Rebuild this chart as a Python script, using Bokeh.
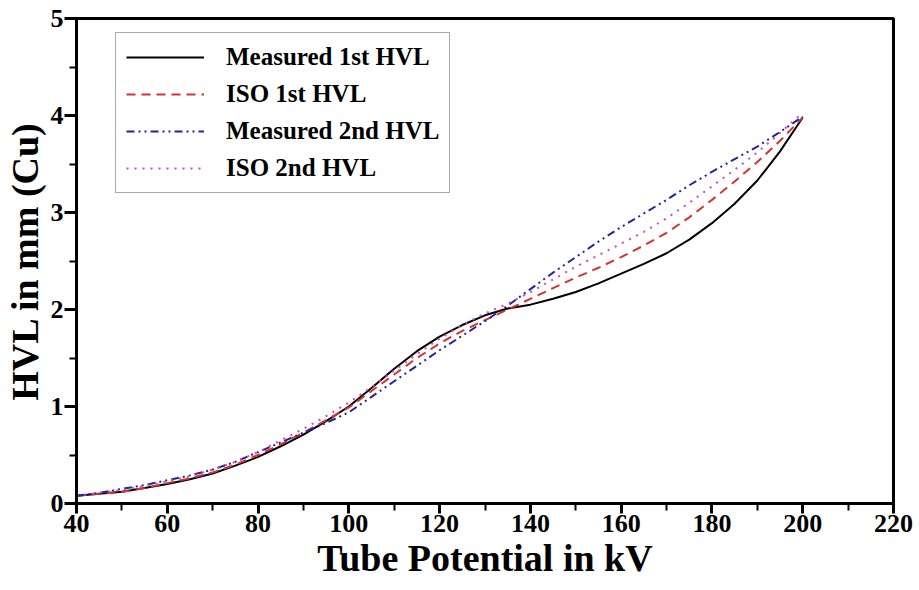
from bokeh.plotting import figure
from bokeh.models import Range1d, Legend, LegendItem, FixedTicker
from bokeh.embed import file_html
from bokeh.resources import INLINE

kv = [40, 45, 50, 55, 60, 65, 70, 75, 80, 85, 90, 95, 100, 105, 110, 115, 120,
      125, 130, 135, 140, 145, 150, 155, 160, 165, 170, 175, 180, 185, 190, 195, 200]

measured_1st = [0.08, 0.10, 0.12, 0.16, 0.20, 0.25, 0.31, 0.39, 0.48, 0.59, 0.71, 0.85, 1.00,
                1.19, 1.39, 1.57, 1.72, 1.84, 1.94, 2.01, 2.05, 2.11, 2.18, 2.27, 2.37, 2.47,
                2.58, 2.72, 2.89, 3.09, 3.33, 3.63, 3.98]
iso_1st = [0.08, 0.10, 0.12, 0.16, 0.21, 0.26, 0.32, 0.40, 0.50, 0.61, 0.73, 0.86, 0.99,
           1.16, 1.33, 1.50, 1.65, 1.78, 1.89, 2.00, 2.11, 2.22, 2.33, 2.43, 2.54, 2.66,
           2.79, 2.95, 3.13, 3.32, 3.52, 3.74, 3.98]
measured_2nd = [0.08, 0.11, 0.15, 0.19, 0.24, 0.29, 0.35, 0.43, 0.53, 0.63, 0.73, 0.83, 0.94,
                1.10, 1.26, 1.42, 1.58, 1.73, 1.88, 2.04, 2.21, 2.38, 2.54, 2.70, 2.85, 2.99,
                3.13, 3.28, 3.42, 3.55, 3.68, 3.83, 3.99]
iso_2nd = [0.08, 0.11, 0.14, 0.18, 0.23, 0.28, 0.35, 0.43, 0.53, 0.65, 0.77, 0.90, 1.04,
           1.20, 1.37, 1.54, 1.70, 1.84, 1.96, 2.06, 2.18, 2.31, 2.44, 2.56, 2.68, 2.80,
           2.94, 3.10, 3.27, 3.44, 3.62, 3.82, 4.03]

series_labels = ["Measured 1st HVL", "ISO 1st HVL", "Measured 2nd HVL", "ISO 2nd HVL"]
x_ticks = [40, 60, 80, 100, 120, 140, 160, 180, 200, 220]
x_minor = [50, 70, 90, 110, 130, 150, 170, 190, 210]
y_ticks = [0, 1, 2, 3, 4, 5]
y_minor = [0.5, 1.5, 2.5, 3.5, 4.5]
x_title = "Tube Potential in kV"
y_title = "HVL in mm (Cu)"

FONT = "Liberation Serif"

p = figure(width=913, height=590, output_backend="svg", toolbar_location=None,
           x_range=Range1d(40, 220), y_range=Range1d(0, 5),
           min_border_left=75, min_border_right=20, min_border_top=18, min_border_bottom=87)

styles = [
    dict(line_color="black", line_width=2, line_dash="solid"),
    dict(line_color="#d8322e", line_width=2, line_dash="9 6"),
    dict(line_color="#24249c", line_width=2, line_dash="8 4 2 4 2 4"),
    dict(line_color="#c848d0", line_width=2, line_dash="2 6"),
]
renderers = []
for ys, st in zip([measured_1st, iso_1st, measured_2nd, iso_2nd], styles):
    r = p.line(kv, ys, **st)
    renderers.append(r)

p.xgrid.visible = False
p.ygrid.visible = False
p.outline_line_color = "black"
p.outline_line_width = 3
p.background_fill_color = "white"
p.border_fill_color = "white"

p.xaxis[0].ticker = FixedTicker(ticks=x_ticks, minor_ticks=x_minor)
p.yaxis[0].ticker = FixedTicker(ticks=y_ticks, minor_ticks=y_minor)
p.xaxis[0].axis_label = x_title
p.yaxis[0].axis_label = y_title

for ax, tick_out in [(p.xaxis[0], 10), (p.yaxis[0], 12)]:
    ax.axis_line_width = 3
    ax.axis_line_color = "black"
    ax.major_tick_line_width = 3
    ax.minor_tick_line_width = 2
    ax.major_tick_line_color = "black"
    ax.minor_tick_line_color = "black"
    ax.major_tick_out = tick_out
    ax.major_tick_in = 0
    ax.minor_tick_out = 7
    ax.minor_tick_in = 0
    ax.major_label_text_font = FONT
    ax.major_label_text_font_style = "bold"
    ax.major_label_text_font_size = "26px"
    ax.major_label_text_color = "black"
    ax.axis_label_text_font = FONT
    ax.axis_label_text_font_style = "bold"
    ax.axis_label_text_font_size = "38px"
    ax.axis_label_text_color = "black"
    ax.major_label_standoff = 1
    ax.axis_label_standoff = 2

legend = Legend(
    items=[LegendItem(label=l, renderers=[r]) for l, r in zip(series_labels, renderers)],
    location=(39, 310),
    label_text_font=FONT, label_text_font_style="bold", label_text_font_size="25px",
    label_text_color="black",
    glyph_width=78, glyph_height=20, label_height=20, label_standoff=22,
    spacing=9, padding=10, margin=0,
    border_line_color="#555555", border_line_width=1,
    background_fill_color="white", background_fill_alpha=1.0,
)
p.add_layout(legend, "center")

open("out.html", "w").write(file_html(p, INLINE))
